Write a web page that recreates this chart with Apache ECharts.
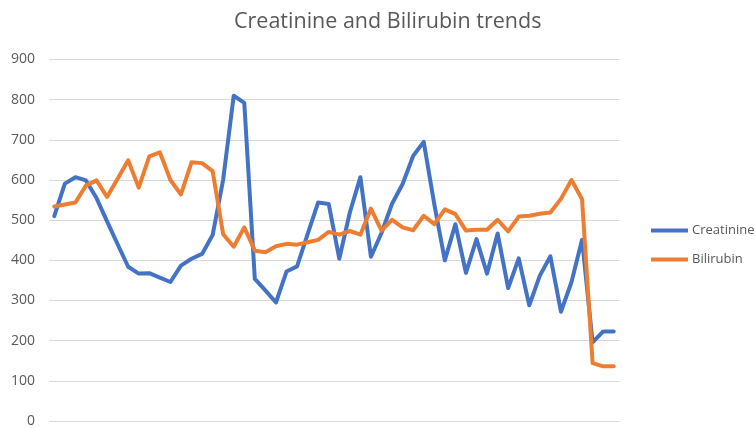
<!DOCTYPE html>
<html>
<head>
<meta charset="utf-8">
<script src="https://cdn.jsdelivr.net/npm/echarts@6/dist/echarts.min.js"></script>
<style>
html,body{margin:0;padding:0;background:#fff;}
#chart{width:755px;height:428px;}
</style>
</head>
<body>
<div id="chart"></div>
<script>
const titleText = 'Creatinine and Bilirubin trends';
const seriesNames = ['Creatinine', 'Bilirubin'];
const categories = Array.from({length: 54}, (_, i) => String(i + 1));
const yTicks = [0, 100, 200, 300, 400, 500, 600, 700, 800, 900];

const creatinine = [
  510, 591, 607, 599, 555, 497, 440, 384, 367, 368,
  357, 346, 387, 404, 416, 463, 601, 810, 792, 354,
  325, 295, 372, 385, 465, 544, 540, 404, 519, 607,
  409, 468, 541, 590, 660, 695, 540, 400, 490, 369,
  453, 367, 467, 331, 405, 288, 362, 410, 272, 346,
  451, 196, 223, 223
];
const bilirubin = [
  534, 539, 544, 586, 599, 558, 603, 649, 581, 659,
  669, 600, 564, 644, 642, 622, 465, 434, 482, 424,
  420, 435, 441, 439, 445, 451, 471, 464, 473, 464,
  529, 474, 501, 482, 475, 511, 490, 527, 515, 474,
  476, 476, 501, 472, 509, 511, 516, 519, 553, 600,
  552, 144, 136, 136
];

const chart = echarts.init(document.getElementById('chart'), null, {renderer: 'canvas'});
const font = '"Open Sans", "Noto Sans", sans-serif';
chart.setOption({
  animation: false,
  backgroundColor: '#ffffff',
  title: {
    text: titleText,
    left: 229,
    top: 6,
    textStyle: {fontFamily: font, fontSize: 21.5, fontWeight: 'normal', color: '#595959'}
  },
  legend: {
    orient: 'vertical',
    left: 646,
    top: 219,
    itemWidth: 37,
    itemHeight: 4,
    itemGap: 16,
    icon: 'rect',
    textStyle: {fontFamily: font, fontSize: 13, color: '#595959', padding: [0,0,0,-1]},
    data: seriesNames
  },
  grid: {left: 49, right: 136, top: 59.5, bottom: 4.5, containLabel: false},
  xAxis: {
    type: 'category',
    data: categories,
    boundaryGap: true,
    axisLine: {show: false},
    axisTick: {show: false},
    axisLabel: {show: false},
    splitLine: {show: false}
  },
  yAxis: {
    type: 'value',
    min: yTicks[0],
    max: yTicks[yTicks.length - 1],
    interval: 100,
    axisLine: {show: false},
    axisTick: {show: false},
    axisLabel: {margin: 14, fontFamily: font, fontSize: 14, color: '#595959'},
    splitLine: {lineStyle: {color: '#d9d9d9', width: 1}}
  },
  series: [
    {name: seriesNames[0], type: 'line', data: creatinine, symbol: 'none', smooth: false,
     lineStyle: {color: '#4472C4', width: 4, join: 'round', cap: 'round'}, itemStyle: {color: '#4472C4'}},
    {name: seriesNames[1], type: 'line', data: bilirubin, symbol: 'none', smooth: false,
     lineStyle: {color: '#ED7D31', width: 4, join: 'round', cap: 'round'}, itemStyle: {color: '#ED7D31'}}
  ]
});
</script>
</body>
</html>
